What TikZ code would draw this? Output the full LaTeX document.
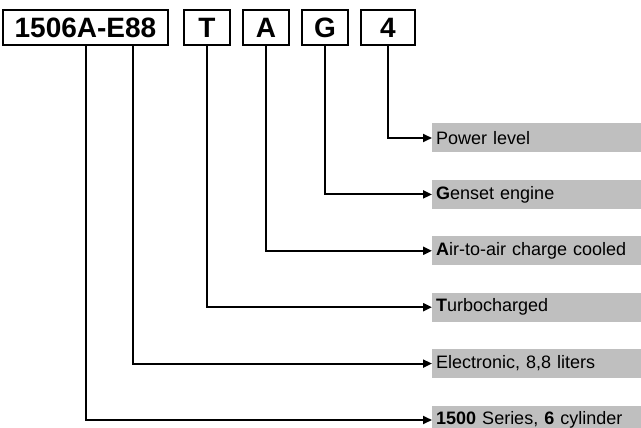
\documentclass[tikz,border=0pt]{standalone}
\usepackage{fontspec}
\setmainfont{Liberation Sans}
\usetikzlibrary{positioning,arrows.meta}

\begin{document}
\begin{tikzpicture}[%
    x=1pt,
    y=-1pt,
    >={Triangle[length=9pt,width=8pt]},
    node distance=11pt,
    codebox/.style={%
      rectangle,
      draw,
      line width=2pt,
      minimum width=46pt,
      minimum height=35pt,
      inner sep=0pt,
      font=\fontsize{28}{30}\selectfont\bfseries
    },
    label/.style={%
      rectangle,
      fill=black!25,
      minimum width=215pt,
      minimum height=29pt,
      inner sep=4pt,
      text width=207pt,
      align=left,
      font=\fontsize{18}{20}\selectfont
    },
    conn/.style={->,line width=2pt}
  ]
    \useasboundingbox (0,0) rectangle (641,428);

    \node[codebox, minimum width=165pt] (code) at (85.5,28) {1506A-E88};
    \node[codebox] (turbo) [right=14pt of code] {T};
    \node[codebox] (air) [right=of turbo] {A};
    \node[codebox] (genset) [right=of air] {G};
    \node[codebox, minimum width=54pt] (power) [right=of genset] {4};

    \node[label, anchor=west] (lpower) at (432,138) {Power level};
    \node[label] (lgenset) [below=27pt of lpower] {\textbf{G}enset engine};
    \node[label] (lair) [below=27pt of lgenset] {\textbf{A}ir-to-air charge cooled};
    \node[label] (lturbo) [below=27pt of lair] {\textbf{T}urbocharged};
    \node[label] (lelec) [below=27pt of lturbo] {Electronic, 8,8 liters};
    \node[label] (lseries) [below=27pt of lelec] {\textbf{1500} Series, \textbf{6} cylinder};

    \draw[conn] (power.south) |- (lpower.west);
    \draw[conn] (genset.south) |- (lgenset.west);
    \draw[conn] (air.south) |- (lair.west);
    \draw[conn] (turbo.south) |- (lturbo.west);
    \draw[conn] ([xshift=47.5pt]code.south) |- (lelec.west);
    \draw[conn] (code.south) |- (lseries.west);
\end{tikzpicture}
\end{document}
